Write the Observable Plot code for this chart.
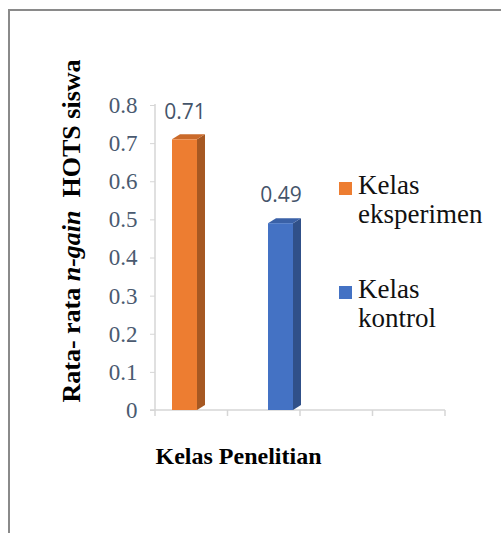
<!DOCTYPE html>
<html>
<head>
<meta charset="utf-8">
<script src="https://cdn.jsdelivr.net/npm/d3@7"></script>
<script src="https://cdn.jsdelivr.net/npm/@observablehq/plot@0.6"></script>
<style>
  html, body { margin: 0; padding: 0; background: #fff; }
  #wrap { position: relative; width: 501px; height: 533px; overflow: hidden; }
  #box { position: absolute; left: 8px; top: 9px; width: 700px; height: 700px;
         border-left: 2px solid #8a8a8a; border-top: 2px solid #8a8a8a; }
  #chart { position: absolute; left: 0; top: 0; }
  #chart .serif text { font-family: "Liberation Serif", "Times New Roman", serif; }
  #chart .sans text { font-family: "Open Sans", sans-serif; }
  #ytitle { position: absolute; left: 72px; top: 231px; white-space: nowrap;
            transform: translate(-50%, -50%) rotate(-90deg);
            font-family: "Liberation Serif", "Times New Roman", serif;
            font-weight: bold; font-size: 26px; color: #000; }
  .legend-item { position: absolute; left: 339px;
                 font-family: "Liberation Serif", "Times New Roman", serif;
                 font-size: 27px; line-height: 29px; color: #111; }
  .legend-item .sw { position: absolute; left: 0; width: 13px; height: 13px; }
  .legend-item .lb { position: absolute; left: 19px; top: 0; white-space: nowrap; }
</style>
</head>
<body>
<div id="wrap">
  <div id="box"></div>
  <div id="chart"></div>
  <div id="ytitle">Rata- rata <i>n-gain</i>&nbsp;&nbsp;HOTS siswa</div>
  <div id="legend"></div>
</div>
<script>
// Research classes and their mean n-gain of students' HOTS
const classes = ["Kelas eksperimen", "Kelas kontrol"];
const legendLines = [["Kelas", "eksperimen"], ["Kelas", "kontrol"]];
const gains = [0.71, 0.49];
const barColors = ["#ED7D31", "#4472C4"];
const yTicks = [0, 0.1, 0.2, 0.3, 0.4, 0.5, 0.6, 0.7, 0.8];
const yTickLabels = ["0", "0.1", "0.2", "0.3", "0.4", "0.5", "0.6", "0.7", "0.8"];
const xTitle = "Kelas Penelitian";

const data = classes.map((kelas, i) => ({kelas, gain: gains[i], color: barColors[i]}));

const W = 501, H = 533;
const mLeft = 155, mRight = 56, mTop = 105, mBottom = 123;
const depthX = 8, depthY = 5;   // extrusion of the 3-D columns
const axisColor = "#d6d6d6";

// Side and top faces of the columns, placed with the plot's own scales
function columnDepth(index, scales) {
  const sx = scales.x, sy = scales.y;
  const bw = typeof sx.bandwidth === "function" ? sx.bandwidth() : sx.bandwidth;
  const g = d3.create("svg:g");
  for (const d of data) {
    const x0 = sx(d.kelas), x1 = x0 + bw;
    const y0 = sy(0), y1 = sy(d.gain);
    const c = d3.color(d.color);
    g.append("polygon")
      .attr("points", [[x1, y1], [x1 + depthX, y1 - depthY], [x1 + depthX, y0 - depthY], [x1, y0]].join(" "))
      .attr("fill", c.darker(1.0).formatHex());
    g.append("polygon")
      .attr("points", [[x0, y1], [x0 + depthX, y1 - depthY], [x1 + depthX, y1 - depthY], [x1, y1]].join(" "))
      .attr("fill", c.darker(0.45).formatHex());
  }
  return g.node();
}

// Axis lines and the category tick marks under the x axis
function axisLines(index, scales, values, dims) {
  const {width, height, marginLeft, marginRight, marginTop, marginBottom} = dims;
  const y0 = height - marginBottom, x1 = width - marginRight;
  const g = d3.create("svg:g").attr("stroke", axisColor).attr("stroke-width", 1.5);
  g.append("line").attr("x1", marginLeft).attr("x2", marginLeft).attr("y1", marginTop - 1).attr("y2", y0);
  g.append("line").attr("x1", marginLeft - 5).attr("x2", x1).attr("y1", y0).attr("y2", y0);
  const n = 4, step = (x1 - marginLeft) / n;
  for (let i = 0; i <= n; i++) {
    const x = marginLeft + i * step;
    g.append("line").attr("x1", x).attr("x2", x).attr("y1", y0).attr("y2", y0 + 6);
  }
  return g.node();
}

const chart = Plot.plot({
  width: W,
  height: H,
  marginLeft: mLeft,
  marginRight: mRight,
  marginTop: mTop,
  marginBottom: mBottom,
  style: {background: "transparent", overflow: "visible"},
  x: {type: "band", domain: classes, range: [172, 293.5], paddingInner: 0.741, paddingOuter: 0, axis: null},
  y: {domain: [0, 0.8], axis: null},
  marks: [
    axisLines,
    Plot.axisY({
      ticks: yTicks,
      tickFormat: (d, i) => yTickLabels[i],
      tickSize: 5,
      tickPadding: 13,
      stroke: axisColor,
      fill: "#4a5a70",
      fontFamily: "Liberation Serif",
      fontSize: 23,
      label: null,
      className: "serif"
    }),
    columnDepth,
    Plot.barY(data, {x: "kelas", y: "gain", fill: "color", inset: 0}),
    Plot.text(data, {
      x: "kelas", y: "gain",
      text: d => d3.format(".2f")(d.gain),
      dy: -28,
      fill: "#44546a",
      fontFamily: "Open Sans",
      fontSize: 21,
      className: "sans"
    }),
    Plot.text([xTitle], {
      frameAnchor: "bottom-left",
      textAnchor: "start",
      lineAnchor: "top",
      dy: 36,
      fontFamily: "Liberation Serif",
      fontWeight: "bold",
      fontSize: 24,
      fill: "#000",
      className: "serif"
    })
  ]
});
document.getElementById("chart").append(chart);

// Legend to the right of the columns
const legend = d3.select("#legend");
const legendTops = [171, 275];
classes.forEach((kelas, i) => {
  const item = legend.append("div").attr("class", "legend-item").style("top", legendTops[i] + "px");
  item.append("div").attr("class", "sw").style("top", "11px").style("background", barColors[i]);
  item.append("div").attr("class", "lb").html(legendLines[i].join("<br>"));
});
</script>
</body>
</html>
